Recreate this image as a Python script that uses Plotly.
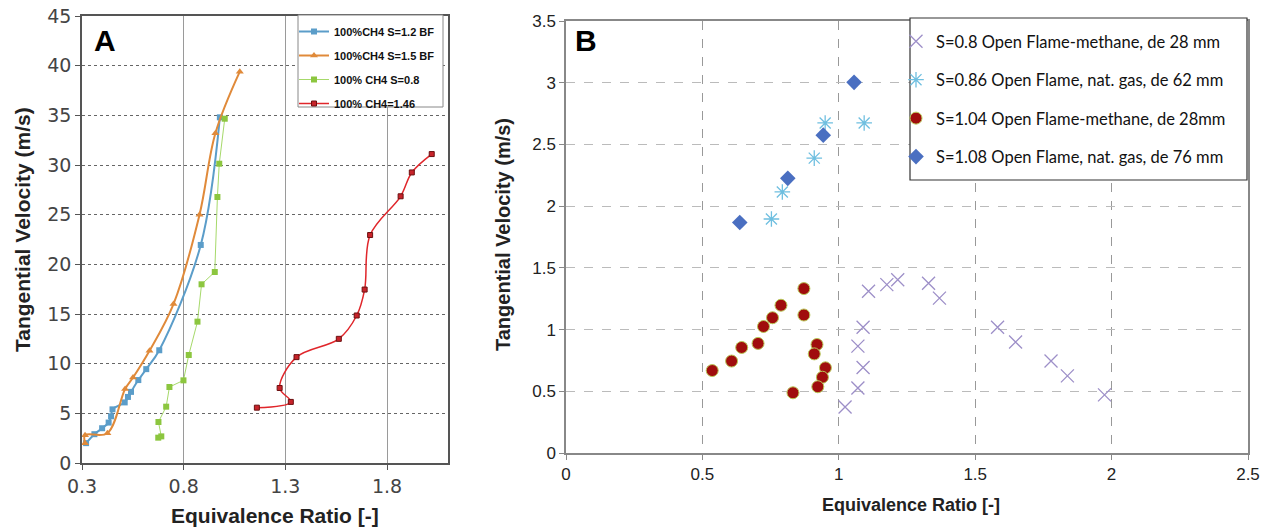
"""Two-panel tangential velocity vs equivalence ratio chart (A: swirl lines, B: open flame scatter)."""

import plotly.graph_objects as go
from plotly.subplots import make_subplots

W, H = 1269, 531

# --- Panel A data ---
a_s12_x = [0.320, 0.361, 0.399, 0.431, 0.443, 0.450, 0.510, 0.526, 0.541, 0.577, 0.616, 0.680, 0.884, 0.978]
a_s12_y = [2.0, 2.9, 3.5, 4.07, 4.7, 5.4, 6.1, 6.65, 7.16, 8.35, 9.45, 11.35, 21.95, 34.8]

a_s15_x = [0.315, 0.315, 0.425, 0.512, 0.551, 0.632, 0.750, 0.878, 0.956, 1.076]
a_s15_y = [2.0, 2.8, 3.0, 7.45, 8.6, 11.3, 16.0, 25.0, 33.2, 39.4]

a_s08_x = [0.675, 0.690, 0.676, 0.714, 0.730, 0.799, 0.825, 0.868, 0.888, 0.953, 0.966, 0.975, 1.002]
a_s08_y = [2.55, 2.68, 4.13, 5.67, 7.65, 8.32, 10.87, 14.23, 17.99, 19.23, 26.78, 30.13, 34.66]

a_s146_x = [1.160, 1.327, 1.272, 1.355, 1.563, 1.651, 1.690, 1.717, 1.867, 1.922, 2.020]
a_s146_y = [5.57, 6.15, 7.55, 10.66, 12.5, 14.85, 17.46, 22.95, 26.85, 29.25, 31.1]

a_xticks = [0.3, 0.8, 1.3, 1.8]
a_yticks = [0, 5, 10, 15, 20, 25, 30, 35, 40, 45]

# --- Panel B data ---
b_s08_x = [1.023, 1.070, 1.089, 1.070, 1.089, 1.109, 1.176, 1.216, 1.329, 1.369, 1.582, 1.648, 1.778, 1.838, 1.974]
b_s08_y = [0.373, 0.526, 0.693, 0.866, 1.019, 1.310, 1.364, 1.403, 1.375, 1.255, 1.019, 0.899, 0.745, 0.625, 0.471]

b_s086_x = [0.753, 0.793, 0.910, 0.950, 1.093]
b_s086_y = [1.896, 2.115, 2.389, 2.674, 2.674]

b_s104_x = [0.536, 0.607, 0.644, 0.704, 0.724, 0.757, 0.788, 0.872, 0.872, 0.920, 0.910, 0.951, 0.940, 0.923, 0.832]
b_s104_y = [0.668, 0.745, 0.855, 0.888, 1.025, 1.096, 1.197, 1.332, 1.118, 0.879, 0.803, 0.690, 0.614, 0.537, 0.488]

b_s108_x = [0.637, 0.813, 0.943, 1.056]
b_s108_y = [1.868, 2.225, 2.575, 3.003]

b_xticks = [0, 0.5, 1, 1.5, 2, 2.5]
b_yticks = [0, 0.5, 1, 1.5, 2, 2.5, 3, 3.5]


def px_x(v):
    """Window pixel x -> paper fraction."""
    return v / W


def px_y(v):
    """Window pixel y (from top) -> paper fraction."""
    return 1 - v / H


fig = make_subplots(rows=1, cols=2)

# --- Panel A traces ---
fig.add_trace(go.Scatter(
    x=a_s12_x, y=a_s12_y, mode="lines+markers", name="<b>100%CH4 S=1.2 BF</b>",
    line={"color": "#5b9dc9", "width": 2, "shape": "spline", "smoothing": 1.0},
    marker={"symbol": "square", "size": 6, "color": "#5b9dc9"},
    legend="legend", legendgroup="a1",
), row=1, col=1)
fig.add_trace(go.Scatter(
    x=a_s15_x, y=a_s15_y, mode="lines+markers", name="<b>100%CH4 S=1.5 BF</b>",
    line={"color": "#e08a3a", "width": 2, "shape": "spline", "smoothing": 1.0},
    marker={"symbol": "triangle-up", "size": 7, "color": "#e08a3a"},
    legend="legend", legendgroup="a2",
), row=1, col=1)
fig.add_trace(go.Scatter(
    x=a_s08_x, y=a_s08_y, mode="lines+markers", name="<b>100% CH4 S=0.8</b>",
    line={"color": "#a6d96a", "width": 1},
    marker={"symbol": "square", "size": 6, "color": "#8cc63f"},
    legend="legend", legendgroup="a3",
), row=1, col=1)
fig.add_trace(go.Scatter(
    x=a_s146_x, y=a_s146_y, mode="lines+markers", name="<b>100% CH4=1.46</b>",
    line={"color": "#e0262b", "width": 1.5, "shape": "spline", "smoothing": 1.0},
    marker={"symbol": "square", "size": 5, "color": "#c8232a",
            "line": {"color": "#6b1010", "width": 1}},
    legend="legend", legendgroup="a4",
), row=1, col=1)

# --- Panel B traces ---
fig.add_trace(go.Scatter(
    x=b_s08_x, y=b_s08_y, mode="markers", name="S=0.8 Open Flame-methane, de 28 mm",
    marker={"symbol": "x-thin-open", "size": 13, "color": "#9d8fc8",
            "line": {"color": "#9d8fc8", "width": 1.3}},
    legend="legend2", legendgroup="b1",
), row=1, col=2)
fig.add_trace(go.Scatter(
    x=b_s086_x, y=b_s086_y, mode="markers", name="S=0.86 Open Flame, nat. gas, de 62 mm",
    marker={"symbol": "asterisk-open", "size": 13, "color": "#6fbfe0",
            "line": {"color": "#6fbfe0", "width": 1.3}},
    legend="legend2", legendgroup="b2",
), row=1, col=2)
fig.add_trace(go.Scatter(
    x=b_s104_x, y=b_s104_y, mode="markers", name="S=1.04 Open Flame-methane, de 28mm",
    marker={"symbol": "circle", "size": 12, "color": "#a00d0d",
            "line": {"color": "#b8c858", "width": 1}},
    legend="legend2", legendgroup="b3",
), row=1, col=2)
fig.add_trace(go.Scatter(
    x=b_s108_x, y=b_s108_y, mode="markers", name="S=1.08 Open Flame, nat. gas, de 76 mm",
    marker={"symbol": "diamond", "size": 12, "color": "#4a6fc1"},
    legend="legend2", legendgroup="b4",
), row=1, col=2)

# --- Axes ---
fig.update_xaxes(
    domain=[px_x(82), px_x(448)], range=[0.3, 2.1], tickvals=a_xticks,
    ticktext=[f"{v:g}" for v in a_xticks],
    showgrid=True, gridcolor="#9a9a9a", gridwidth=1,
    showline=True, linecolor="#555", linewidth=1.5, mirror=True,
    ticks="outside", ticklen=5, tickcolor="#555",
    tickfont={"family": "DejaVu Sans", "size": 19, "color": "#444"},
    zeroline=False, automargin=False, ticklabeloverflow="allow", row=1, col=1,
)
fig.update_yaxes(
    domain=[px_y(463), px_y(16)], range=[0, 45], tickvals=a_yticks,
    showgrid=True, gridcolor="#666", gridwidth=1, griddash="dot",
    showline=True, linecolor="#555", linewidth=1.5, mirror=True,
    ticks="outside", ticklen=5, tickcolor="#555",
    tickfont={"family": "DejaVu Sans", "size": 19, "color": "#444"},
    zeroline=False, automargin=False, ticklabeloverflow="allow", row=1, col=1,
)
fig.update_xaxes(
    domain=[px_x(566), px_x(1248)], range=[0, 2.5], tickvals=b_xticks,
    ticktext=[f"{v:g}" for v in b_xticks],
    showgrid=True, gridcolor="#999", gridwidth=1, griddash="dash",
    showline=True, linecolor="#888", linewidth=1.5, mirror=True,
    ticks="outside", ticklen=5, tickcolor="#888",
    tickfont={"family": "Liberation Sans", "size": 17, "color": "#222"},
    zeroline=False, automargin=False, ticklabeloverflow="allow", row=1, col=2,
)
fig.update_yaxes(
    domain=[px_y(453), px_y(21)], range=[0, 3.5], tickvals=b_yticks,
    ticktext=[f"{v:g}" for v in b_yticks],
    showgrid=True, gridcolor="#bbb", gridwidth=1, griddash="dash",
    showline=True, linecolor="#888", linewidth=1.5, mirror=True,
    ticks="outside", ticklen=5, tickcolor="#888",
    tickfont={"family": "Liberation Sans", "size": 17, "color": "#222"},
    zeroline=False, automargin=False, ticklabeloverflow="allow", row=1, col=2,
)

# --- Titles, panel letters and legend frames ---
title_font = {"family": "Liberation Sans", "size": 21, "color": "#222"}
annotations = [
    {"text": "<b>Tangential Velocity (m/s)</b>", "x": px_x(22), "y": px_y(230),
     "textangle": -90, "font": title_font},
    {"text": "<b>Equivalence Ratio [-]</b>", "x": px_x(275), "y": px_y(515),
     "font": title_font},
    {"text": "<b>Tangential Velocity (m/s)</b>", "x": px_x(503), "y": px_y(235),
     "textangle": -90, "font": {**title_font, "size": 20}},
    {"text": "<b>Equivalence Ratio [-]</b>", "x": px_x(911), "y": px_y(505),
     "font": {**title_font, "size": 18}},
    {"text": "<b>A</b>", "x": px_x(105), "y": px_y(40),
     "font": {"family": "Liberation Sans", "size": 30, "color": "#000"}},
    {"text": "<b>B</b>", "x": px_x(586), "y": px_y(40),
     "font": {"family": "Liberation Sans", "size": 30, "color": "#000"}},
]
for a in annotations:
    a.update({"xref": "paper", "yref": "paper", "showarrow": False,
              "xanchor": "center", "yanchor": "middle"})

shapes = [
    {"type": "rect", "xref": "paper", "yref": "paper",
     "x0": px_x(298), "x1": px_x(443), "y0": px_y(107), "y1": px_y(15),
     "line": {"color": "#888", "width": 1}, "fillcolor": "white", "layer": "above"},
    {"type": "rect", "xref": "paper", "yref": "paper",
     "x0": px_x(910), "x1": px_x(1247), "y0": px_y(180), "y1": px_y(18),
     "line": {"color": "#333", "width": 1.2}, "fillcolor": "white", "layer": "above"},
]

fig.update_layout(
    width=W, height=H,
    margin={"l": 0, "r": 0, "t": 0, "b": 0},
    paper_bgcolor="white", plot_bgcolor="white",
    annotations=annotations, shapes=shapes,
    legend={
        "x": px_x(294), "y": px_y(17), "xanchor": "left", "yanchor": "top",
        "bgcolor": "rgba(0,0,0,0)", "borderwidth": 0, "itemwidth": 30,
        "tracegroupgap": 5,
        "font": {"family": "Liberation Sans", "size": 11, "color": "#111"},
    },
    legend2={
        "x": px_x(896), "y": px_y(24), "xanchor": "left", "yanchor": "top",
        "bgcolor": "rgba(0,0,0,0)", "borderwidth": 0, "itemwidth": 30,
        "tracegroupgap": 14,
        "font": {"family": "Lato", "size": 16.5, "color": "#111"},
    },
)

# drop the page's default body margin so the figure fills the window exactly
fig.write_html(
    "out.html",
    config={"displayModeBar": False},
    post_script="document.body.style.margin = '0';",
)
